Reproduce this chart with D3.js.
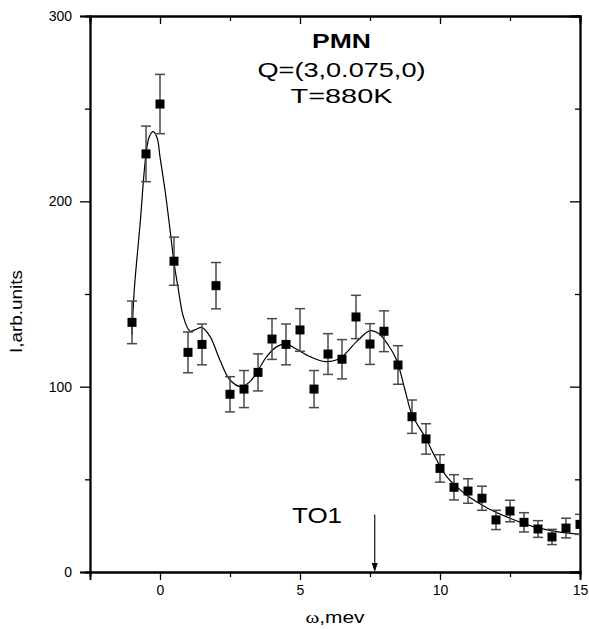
<!DOCTYPE html>
<html>
<head>
<meta charset="utf-8">
<script src="https://cdn.jsdelivr.net/npm/d3@7"></script>
<style>
  html, body { margin: 0; padding: 0; background: #fff; }
  svg { display: block; }
  text { font-family: "Liberation Sans", Arial, sans-serif; fill: #000; }
</style>
</head>
<body>
<svg id="chart" width="589" height="629"></svg>
<script>
// ---- data ----
const omega = [-1, -0.5, 0, 0.5, 1, 1.5, 2, 2.5, 3, 3.5, 4, 4.5, 5, 5.5, 6, 6.5, 7, 7.5, 8, 8.5, 9, 9.5, 10, 10.5, 11, 11.5, 12, 12.5, 13, 13.5, 14, 14.5, 15];
const intensity = [134.7, 225.6, 252.5, 167.7, 118.5, 122.8, 154.5, 95.9, 98.7, 107.7, 125.7, 122.8, 130.6, 98.7, 117.6, 114.8, 137.6, 123, 129.9, 111.7, 83.8, 71.8, 55.9, 45.7, 43.7, 39.8, 28.1, 32.9, 26.8, 23.2, 18.9, 23.7, 25.7];
const errors = [11.5, 15, 16, 13, 11, 11, 12.5, 9.5, 10, 10, 11, 11, 11.5, 10, 11, 10.6, 11.7, 11, 11, 10.4, 9, 8.2, 7.4, 6.8, 6.6, 6.5, 5.2, 5.8, 5.2, 4.5, 4.1, 5.3, 5.4];
// fit curve points
const fitOmega = [-1.0, -0.92, -0.71, -0.51, -0.38, -0.24, -0.1, 0, 0.18, 0.36, 0.51, 0.65, 0.83, 1.07, 1.3, 1.49, 1.79, 2.14, 2.5, 2.9, 3.21, 3.51, 3.81, 4.17, 4.52, 4.88, 5.36, 5.9, 6.43, 7.02, 7.5, 7.8, 8.15, 8.45, 8.75, 9.0, 9.5, 9.76, 10.24, 10.95, 11.67, 12.5, 13.33, 14.17, 15];
const fitI = [128, 152, 188, 224, 235, 237.6, 234, 224, 206, 184.5, 166, 153, 138, 130, 131, 132, 127, 114.4, 103.6, 100, 102.7, 109, 116.2, 121.6, 123, 120.2, 116.2, 113.5, 115.3, 124.3, 130.2, 128.8, 122.5, 114.4, 98.2, 85, 72, 64, 51.4, 41.5, 34.7, 29, 24.5, 21.8, 20.3];
const xDomain = [-2.5, 15];
const yDomain = [0, 300];
const xTickValues = [0, 5, 10, 15];
const xMinorTicks = [-2.5, 2.5, 7.5, 12.5];
const yTickValues = [0, 100, 200, 300];
const yMinorTicks = [50, 150, 250];
const arrowOmega = 7.67;
const arrowSpan = [31, 0];
const titleLines = ["PMN", "Q=(3,0.075,0)", "T=880K"];
const peakLabel = "TO1";
const xTitle = ["ω", ",mev"];
const yTitle = "I,arb.units";

// ---- layout ----
const svg = d3.select("#chart");
const L = 90, R = 580, T = 16, B = 572;
const x = d3.scaleLinear().domain(xDomain).range([L, R]);
const y = d3.scaleLinear().domain(yDomain).range([B, T]);

svg.append("defs").append("clipPath").attr("id", "clip")
  .append("rect").attr("x", L).attr("y", T).attr("width", R - L).attr("height", B - T);

const axisStroke = 1.8;
function styleAxis(g) {
  g.selectAll(".domain").attr("stroke", "#000").attr("stroke-width", axisStroke);
  g.selectAll(".tick line").attr("stroke", "#000").attr("stroke-width", 1.3);
  g.selectAll(".tick text").style("font-family", "'Liberation Sans', Arial, sans-serif")
    .style("font-size", "14px").attr("fill", "#000");
}

// bottom axis (major + minor)
svg.append("g").attr("transform", `translate(0,${B})`)
  .call(d3.axisBottom(x).tickValues(xMinorTicks).tickSize(5).tickFormat(""))
  .call(styleAxis);
svg.append("g").attr("transform", `translate(0,${B})`)
  .call(d3.axisBottom(x).tickValues(xTickValues).tickSize(8).tickPadding(5).tickFormat(d3.format("d")))
  .call(styleAxis);
// top axis (inward ticks)
svg.append("g").attr("transform", `translate(0,${T})`)
  .call(d3.axisTop(x).tickValues(xMinorTicks).tickSize(-5).tickFormat(""))
  .call(styleAxis);
svg.append("g").attr("transform", `translate(0,${T})`)
  .call(d3.axisTop(x).tickValues(xTickValues).tickSize(-8).tickFormat(""))
  .call(styleAxis);
// left axis
svg.append("g").attr("transform", `translate(${L},0)`)
  .call(d3.axisLeft(y).tickValues(yMinorTicks).tickSize(5).tickFormat(""))
  .call(styleAxis);
svg.append("g").attr("transform", `translate(${L},0)`)
  .call(d3.axisLeft(y).tickValues(yTickValues).tickSize(10).tickPadding(8).tickFormat(d3.format("d")))
  .call(styleAxis);
// right axis (inward)
svg.append("g").attr("transform", `translate(${R},0)`)
  .call(d3.axisRight(y).tickValues(yMinorTicks).tickSize(-5).tickFormat(""))
  .call(styleAxis);
svg.append("g").attr("transform", `translate(${R},0)`)
  .call(d3.axisRight(y).tickValues(yTickValues).tickSize(-10).tickFormat(""))
  .call(styleAxis);

// ---- data marks ----
const plot = svg.append("g").attr("clip-path", "url(#clip)");
const pts = omega.map((w, i) => ({ w, v: intensity[i], e: errors[i] }));

// fit curve
const fit = fitOmega.map((w, i) => [w, fitI[i]]);
plot.append("path")
  .datum(fit)
  .attr("fill", "none")
  .attr("stroke", "#000")
  .attr("stroke-width", 1.2)
  .attr("d", d3.line().x(d => x(d[0])).y(d => y(d[1])).curve(d3.curveCatmullRom.alpha(0.5)));

// error bars
const eb = plot.append("g").attr("stroke", "#4a4a4a").attr("stroke-width", 1.5);
const capW = 5;
eb.selectAll("line.v").data(pts).join("line").attr("class", "v")
  .attr("x1", d => x(d.w)).attr("x2", d => x(d.w))
  .attr("y1", d => y(d.v + d.e)).attr("y2", d => y(d.v - d.e));
eb.selectAll("line.t").data(pts).join("line").attr("class", "t")
  .attr("x1", d => x(d.w) - capW).attr("x2", d => x(d.w) + capW)
  .attr("y1", d => y(d.v + d.e)).attr("y2", d => y(d.v + d.e));
eb.selectAll("line.b").data(pts).join("line").attr("class", "b")
  .attr("x1", d => x(d.w) - capW).attr("x2", d => x(d.w) + capW)
  .attr("y1", d => y(d.v - d.e)).attr("y2", d => y(d.v - d.e));

// squares
const sq = 9;
plot.selectAll("rect.pt").data(pts).join("rect").attr("class", "pt")
  .attr("x", d => x(d.w) - sq / 2).attr("y", d => y(d.v) - sq / 2)
  .attr("width", sq).attr("height", sq).attr("fill", "#000");

// ---- annotations ----
const ax = x(arrowOmega);
svg.append("line")
  .attr("x1", ax).attr("x2", ax)
  .attr("y1", y(arrowSpan[0])).attr("y2", y(arrowSpan[1]) - 6)
  .attr("stroke", "#000").attr("stroke-width", 1.1);
svg.append("path")
  .attr("d", `M${ax - 3},${y(arrowSpan[1]) - 9} L${ax + 3},${y(arrowSpan[1]) - 9} L${ax},${y(arrowSpan[1])} Z`)
  .attr("fill", "#000");

svg.append("text").attr("x", 317).attr("y", 523)
  .attr("text-anchor", "middle").style("font-size", "22px")
  .attr("textLength", 50).attr("lengthAdjust", "spacingAndGlyphs")
  .text(peakLabel);

const titleSpec = [
  { y: 48, size: 20, w: 59, bold: true },
  { y: 77, size: 21, w: 168, bold: false },
  { y: 102.5, size: 20, w: 102, bold: false }
];
titleLines.forEach((t, i) => {
  const s = titleSpec[i];
  svg.append("text").attr("x", 341.5).attr("y", s.y)
    .attr("text-anchor", "middle")
    .style("font-size", s.size + "px")
    .style("font-weight", s.bold ? "bold" : "normal")
    .attr("textLength", s.w).attr("lengthAdjust", "spacingAndGlyphs")
    .text(t);
});

// axis titles
const xt = svg.append("text").attr("x", 335).attr("y", 623)
  .attr("text-anchor", "middle").style("font-size", "16px")
  .attr("textLength", 59).attr("lengthAdjust", "spacingAndGlyphs");
xt.append("tspan").style("font-family", "'Liberation Serif', 'Times New Roman', serif").text(xTitle[0]);
xt.append("tspan").text(xTitle[1]);

svg.append("text")
  .attr("transform", "translate(22,311.5) rotate(-90)")
  .attr("text-anchor", "middle").style("font-size", "16px")
  .attr("textLength", 83).attr("lengthAdjust", "spacingAndGlyphs")
  .text(yTitle);
</script>
</body>
</html>
